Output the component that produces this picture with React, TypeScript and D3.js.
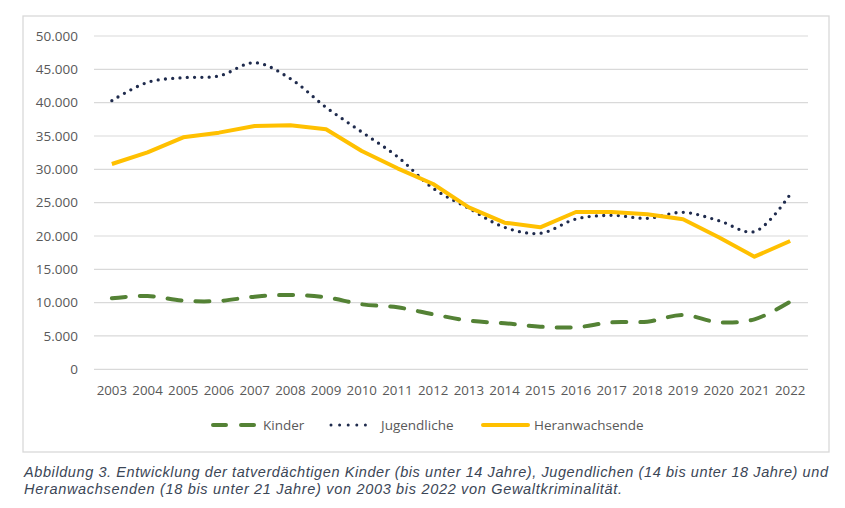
import React from "react";
import * as d3 from "d3";

const years = ["2003","2004","2005","2006","2007","2008","2009","2010","2011","2012","2013","2014","2015","2016","2017","2018","2019","2020","2021","2022"];
const kinder = [10650,11000,10300,10250,10900,11150,10800,9750,9300,8250,7300,6900,6400,6300,7050,7150,8150,7050,7500,10150];
const jugendliche = [40300,43050,43750,44000,46000,43600,39300,35600,31900,27150,24150,21300,20400,22550,23100,22650,23550,22300,20650,26250];
const heranwachsende = [30800,32550,34800,35500,36500,36600,36000,32750,30150,27800,24300,22000,21300,23600,23600,23250,22500,19800,16900,19250];
const yTicks = [0,5000,10000,15000,20000,25000,30000,35000,40000,45000,50000];
const captionLines = [
  "Abbildung 3. Entwicklung der tatverdächtigen Kinder (bis unter 14 Jahre), Jugendlichen (14 bis unter 18 Jahre) und",
  "Heranwachsenden (18 bis unter 21 Jahre) von 2003 bis 2022 von Gewaltkriminalität.",
];
const captionWidths = [804, 598];

const W = 845, H = 508;
const plot = { left: 94, right: 808, top: 36, bottom: 369.3 };
const GREEN = "#548235", NAVY = "#1F2B4D", YELLOW = "#FFC000", GRAY = "#595959";
const font = "'Open Sans', sans-serif";

export default function App() {
  const x = d3.scaleBand<string>().domain(years).range([plot.left, plot.right]);
  const y = d3.scaleLinear().domain([0, 50000]).range([plot.bottom, plot.top]);
  const cx = (i: number) => (x(years[i]) as number) + x.bandwidth() / 2;
  const smooth = d3.line<number>().x((_, i) => cx(i)).y(d => y(d)).curve(d3.curveCatmullRom.alpha(0.5));
  const straight = d3.line<number>().x((_, i) => cx(i)).y(d => y(d));
  const fmt = (v: number) => v === 0 ? "0" : d3.format(",")(v).replace(/,/g, ".");
  const legendY = 425;
  return (
    <svg width={W} height={H} style={{ position: "absolute", left: 0, top: 0, background: "#fff" }} fontFamily={font}>
      <rect x={23} y={16} width={806} height={436} fill="#fff" stroke="#D9D9D9" strokeWidth={1.3} />
      {yTicks.map(t => (
        <g key={t}>
          <line x1={plot.left} x2={plot.right} y1={y(t)} y2={y(t)} stroke="#D9D9D9" strokeWidth={1.2} />
          <text x={78} y={y(t)} dy="0.35em" textAnchor="end" fontSize={13.5} fill={GRAY}>{fmt(t)}</text>
        </g>
      ))}
      {years.map((yr, i) => (
        <text key={yr} x={cx(i)} y={395} textAnchor="middle" fontSize={13.3} fill={GRAY}>{yr}</text>
      ))}
      <path d={smooth(kinder) || ""} fill="none" stroke={GREEN} strokeWidth={4} strokeDasharray="14 14" strokeLinecap="round" />
      <path d={smooth(jugendliche) || ""} fill="none" stroke={NAVY} strokeWidth={3.3} strokeDasharray="0 7.3" strokeLinecap="round" />
      <path d={straight(heranwachsende) || ""} fill="none" stroke={YELLOW} strokeWidth={4} strokeLinejoin="round" />
      <g>
        <line x1={213} x2={256} y1={legendY} y2={legendY} stroke={GREEN} strokeWidth={4} strokeDasharray="13 15" strokeLinecap="round" />
        <text x={263} y={legendY} dy="0.35em" fontSize={13.5} fill={GRAY}>Kinder</text>
        <line x1={331} x2={373} y1={legendY} y2={legendY} stroke={NAVY} strokeWidth={3} strokeDasharray="0 8.6" strokeLinecap="round" />
        <text x={381} y={legendY} dy="0.35em" fontSize={13.5} fill={GRAY}>Jugendliche</text>
        <line x1={483} x2={528} y1={legendY} y2={legendY} stroke={YELLOW} strokeWidth={4} strokeLinecap="round" />
        <text x={534} y={legendY} dy="0.35em" fontSize={13.5} fill={GRAY}>Heranwachsende</text>
      </g>
      {captionLines.map((l, i) => (
        <text key={i} x={24} y={477 + i * 17} fontSize={14.5} fontStyle="italic" textLength={captionWidths[i]} lengthAdjust="spacing"
          fontFamily="'Liberation Sans', Arial, sans-serif" fill="#3B4656">{l}</text>
      ))}
    </svg>
  );
}
